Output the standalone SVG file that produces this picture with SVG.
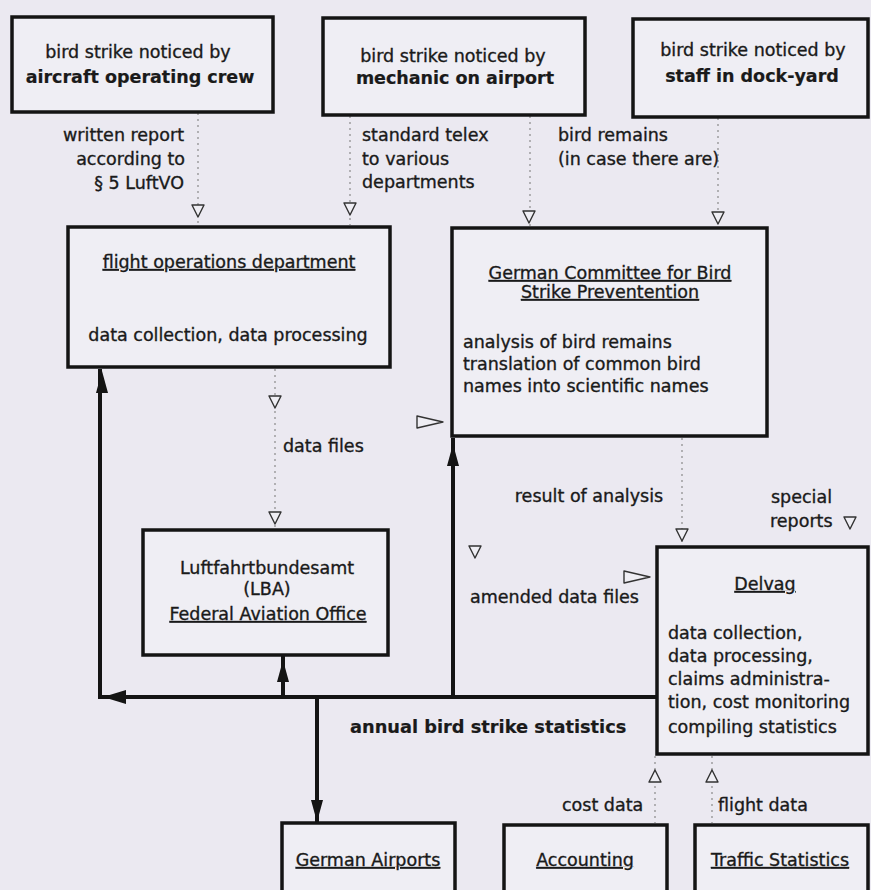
<svg xmlns="http://www.w3.org/2000/svg" xmlns:xlink="http://www.w3.org/1999/xlink" width="871" height="890" viewBox="0 0 871 890">
<style>
  .bg { fill: #ebe9f1; }
  .box { fill: #efeef4; stroke: #141414; stroke-width: 3.5; }
  text { font-family: "DejaVu Sans", "Liberation Sans", sans-serif; font-size: 17.5px; fill: #1a1a1a; stroke: #1a1a1a; stroke-width: 0.35; }
  .c { text-anchor: middle; }
  .e { text-anchor: end; }
  .b { font-weight: bold; stroke-width: 0.2; }
  .u { text-decoration: underline; }
  .thick { fill: none; stroke: #141414; stroke-width: 4; }
  .dash { fill: none; stroke: #8a8a8a; stroke-width: 1.2; stroke-dasharray: 2 4; }
  .open { fill: #efeef4; stroke: #333; stroke-width: 1.4; stroke-linejoin: round; }
  .solid { fill: #141414; stroke: none; }
</style>
<defs>
  <path id="tdown" d="M-6,0 L6,0 L0,12 Z"/>
  <path id="tup" d="M-6,12 L6,12 L0,0 Z"/>
  <path id="tright" d="M0,-6 L0,6 L26,0 Z"/>
  <path id="fup" d="M-6,22 L6,22 L0,0 Z"/>
  <path id="fdown" d="M-6,0 L6,0 L0,22 Z"/>
</defs>
<rect class="bg" x="0" y="0" width="871" height="890"/>

<g id="connectors">
  <path class="dash" d="M198,113 V225"/>
  <path class="dash" d="M350,116 V225"/>
  <path class="dash" d="M530,116 V226"/>
  <path class="dash" d="M718,118 V226"/>
  <path class="dash" d="M275,369 V528"/>
  <path class="dash" d="M682,438 V545"/>
  <path class="dash" d="M655,756 V823"/>
  <path class="dash" d="M712,756 V823"/>
  <use xlink:href="#tdown" class="open" x="198" y="205"/>
  <use xlink:href="#tdown" class="open" x="350" y="203"/>
  <use xlink:href="#tdown" class="open" x="529" y="211"/>
  <use xlink:href="#tdown" class="open" x="718" y="212"/>
  <use xlink:href="#tdown" class="open" x="275" y="396"/>
  <use xlink:href="#tdown" class="open" x="275" y="512"/>
  <use xlink:href="#tright" class="open" transform="translate(417,422)"/>
  <use xlink:href="#tdown" class="open" x="475" y="546"/>
  <use xlink:href="#tright" class="open" transform="translate(624,577)"/>
  <use xlink:href="#tdown" class="open" x="682" y="529"/>
  <use xlink:href="#tdown" class="open" x="850" y="517"/>
  <use xlink:href="#tup" class="open" x="655" y="770"/>
  <use xlink:href="#tup" class="open" x="712" y="770"/>
  <path class="thick" d="M657,697 H100 V369"/>
  <path class="thick" d="M283,697 V656"/>
  <path class="thick" d="M453,697 V438"/>
  <path class="thick" d="M317,697 V822"/>
  <use xlink:href="#fup" class="solid" x="102" y="371"/>
  <use xlink:href="#fup" class="solid" x="283" y="660"/>
  <use xlink:href="#fup" class="solid" x="453" y="444"/>
  <use xlink:href="#fdown" class="solid" x="317" y="800"/>
  <path class="solid" d="M103,697 L126,690 L126,704 Z"/>
</g>

<g id="labels">
  <text class="e" x="184" y="141">written report</text>
  <text class="e" x="185" y="165">according to</text>
  <text class="e" x="184" y="189">§ 5 LuftVO</text>
  <text x="362" y="141">standard telex</text>
  <text x="362" y="165">to various</text>
  <text x="362" y="188">departments</text>
  <text x="558" y="141">bird remains</text>
  <text x="558" y="165">(in case there are)</text>
  <text x="283" y="452">data files</text>
  <text class="c" x="589" y="502">result of analysis</text>
  <text x="771" y="503">special</text>
  <text x="770" y="527">reports</text>
  <text x="470" y="603">amended data files</text>
  <text class="b" x="350" y="733" style="font-size:17.8px">annual bird strike statistics</text>
  <text x="562" y="811">cost data</text>
  <text x="718" y="811">flight data</text>
</g>

<g id="crew">
  <rect class="box" x="12" y="17" width="261" height="95"/>
  <text class="c" x="138" y="58">bird strike noticed by</text>
  <text class="c b" x="140" y="83">aircraft operating crew</text>
</g>
<g id="mechanic">
  <rect class="box" x="323" y="18" width="262" height="97"/>
  <text class="c" x="453" y="62">bird strike noticed by</text>
  <text class="c b" x="455" y="84">mechanic on airport</text>
</g>
<g id="dockyard">
  <rect class="box" x="633" y="19" width="235" height="98"/>
  <text class="c" x="753" y="56">bird strike noticed by</text>
  <text class="c b" x="752" y="82">staff in dock-yard</text>
</g>
<g id="flightops">
  <rect class="box" x="68" y="227" width="322" height="140"/>
  <text class="c u" x="229" y="268">flight operations department</text>
  <text class="c" x="228" y="341">data collection, data processing</text>
</g>
<g id="committee">
  <rect class="box" x="452" y="228" width="315" height="208"/>
  <text class="c u" x="610" y="279">German Committee for Bird</text>
  <text class="c u" x="610" y="298">Strike Preventention</text>
  <text x="463" y="348">analysis of bird remains</text>
  <text x="463" y="370">translation of common bird</text>
  <text x="463" y="392">names into scientific names</text>
</g>
<g id="lba">
  <rect class="box" x="143" y="530" width="245" height="125"/>
  <text class="c" x="267" y="574">Luftfahrtbundesamt</text>
  <text class="c" x="267" y="595">(LBA)</text>
  <text class="c u" x="268" y="620">Federal Aviation Office</text>
</g>
<g id="delvag">
  <rect class="box" x="657" y="547" width="211" height="207"/>
  <text class="c u" x="765" y="590">Delvag</text>
  <text x="668" y="639">data collection,</text>
  <text x="668" y="662">data processing,</text>
  <text x="668" y="685">claims administra-</text>
  <text x="668" y="708">tion, cost monitoring</text>
  <text x="668" y="733">compiling statistics</text>
</g>
<g id="airports">
  <rect class="box" x="282" y="823" width="173" height="80"/>
  <text class="c u" x="368" y="866">German Airports</text>
</g>
<g id="accounting">
  <rect class="box" x="504" y="825" width="163" height="80"/>
  <text class="c u" x="585" y="866">Accounting</text>
</g>
<g id="traffic">
  <rect class="box" x="695" y="825" width="173" height="80"/>
  <text class="c u" x="780" y="866">Traffic Statistics</text>
</g>
</svg>
